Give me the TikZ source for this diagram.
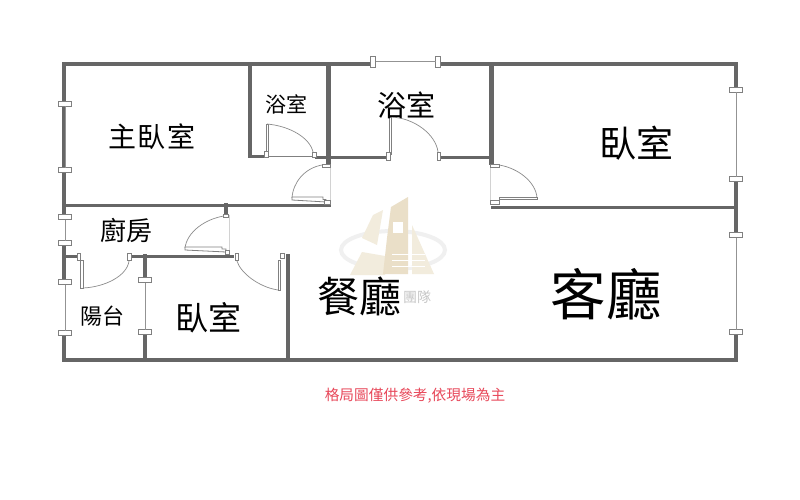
\documentclass[tikz,border=0pt]{standalone}
\usepackage{fontspec}
\newfontfamily\cjk{Noto Sans CJK TC}
\definecolor{wallc}{HTML}{666666}
\definecolor{tan1}{HTML}{EADFC8}
\definecolor{tan2}{HTML}{F2ECDD}
\definecolor{ringc}{HTML}{F0F0F0}
\definecolor{redt}{HTML}{E8485A}
\tikzset{
  wall/.style={draw=wallc,line width=4.5pt,line cap=rect},
  wallthin/.style={draw=wallc,line width=3pt,line cap=butt},
  glass/.style={draw=gray!85,line width=1pt},
  hcap/.style={draw=gray,fill=white,line width=1.3pt,minimum width=13pt,minimum height=5pt,inner sep=0pt,outer sep=0pt,rectangle},
  vcap/.style={draw=gray,fill=white,line width=1.3pt,minimum width=5pt,minimum height=11pt,inner sep=0pt,outer sep=0pt,rectangle},
  leaf/.style={draw=gray,fill=white,line width=.8pt},
  swing/.style={draw=gray!90,line width=.7pt},
  hair/.style={draw=gray!35,line width=.5pt},
  room/.style={font=\cjk,text=black,inner sep=0pt},
}
\begin{document}
\begin{tikzpicture}[x=1pt,y=-1pt]
\useasboundingbox (0,0) rectangle (800,500);
\fill[white] (0,0) rectangle (800,500);
% watermark
\draw[ringc,line width=4pt] (393,250) ellipse [x radius=52,y radius=19];
\fill[tan2] (362,238) -- (373,215) -- (383,210) -- (377,245) -- cycle;
\fill[tan2] (350,275) -- (362,252) -- (385,256) -- (385,275) -- cycle;
\fill[tan1] (387,238) -- (391,207) -- (408,197) -- (408,274) -- (383,274) -- cycle;
\fill[white] (393,222) rectangle (403,233);
\fill[tan2] (412,225) -- (434,274) -- (412,274) -- cycle;
\foreach \yy in {254,260,266}{\draw[white,line width=1pt] (392,\yy) -- (425,\yy);}
\node[room,font=\cjk\fontsize{14}{14}\selectfont,text=gray!45] (wmark) at (417,297) {團隊};
% outer and main walls
\draw[wall] (373,64) -| (64,170);
\draw[wall] (438,64) -| (736,90);
\draw[wall] (736,179) -- (736,235);
\draw[wall] (736,332) |- (64,360) -- (64,333);
\draw[wall] (64,170) -- (64,217);
\draw[wall] (64,243) -- (64,282);
\draw[wallthin] (64,205.5) -- (331,205.5);
\draw[wallthin] (491,207.5) -- (736,207.5);
\draw[wall] (250,64) -- (250,156);
\draw[wallthin] (250,156.5) -- (267,156.5);
\draw[gray,line width=1.2pt] (267,156.5) -- (315,156.5);
\draw[wall] (328.5,64) -- (328.5,163);
\draw[wallthin] (315,157) -- (386,157);
\draw[wallthin] (440,157) -- (491,157);
\draw[wall] (491.5,64) -- (491.5,163);
\draw[wallthin] (64,256) -- (78,256);
\draw[wallthin] (131,256) -- (234,256);
\draw[wall] (145,256) -- (145,280);
\draw[wall] (145,332) -- (145,360);
\draw[wall] (288,256) -- (288,360);
\draw[wall] (226,205) -- (226,215);
% windows
\node[hcap] (wa) at (65,104) {};
\node[hcap] (wb) at (65,170) {};
\draw[glass] (wa) -- (wb);
\node[vcap] (wc) at (373,62) {};
\node[vcap] (wd) at (438,62) {};
\draw[glass] (wc) -- (wd);
\node[hcap] (we) at (736,90) {};
\node[hcap] (wf) at (736,179) {};
\draw[glass] (we) -- (wf);
\node[hcap] (wg) at (736,235) {};
\node[hcap] (wh) at (736,332) {};
\draw[glass] (wg) -- (wh);
\node[hcap] (wi) at (65,217) {};
\node[hcap] (wj) at (65,243) {};
\draw[glass] (wi) -- (wj);
\node[hcap] (wk) at (65,282) {};
\node[hcap] (wl) at (65,333) {};
\draw[glass] (wk) -- (wl);
\node[hcap] (wm) at (145,280) {};
\node[hcap] (wn) at (145,332) {};
\draw[glass] (wm) -- (wn);
% door: small bath
\draw[leaf] (266,124) rectangle (268.5,155);
\draw[leaf] (264,151) rectangle (268,157);
\draw[swing] (267,124) .. controls (290,126) and (310,138) .. (313,152);
\draw[leaf] (312,152) rectangle (316,157.5);
% door: large bath
\draw[leaf] (389,117) rectangle (391.5,154);
\draw[leaf] (386,152) rectangle (390,160);
\draw[swing] (391,117) .. controls (415,118) and (436,135) .. (438,152);
\draw[leaf] (437,152) rectangle (440,160);
% door: master bedroom
\draw[hair] (330,165) -- (330,205);
\draw[leaf] (322,164) rectangle (330,167);
\draw[swing] (322,165) .. controls (305,168) and (293,182) .. (292,198);
\draw[leaf] (292,197) -- (323,197) -- (323,199.5) -- (326,199.5) -- (326,202) -- (292,200) -- cycle;
\draw[leaf] (324,200) rectangle (330,204);
% door: bedroom right
\draw[hair] (490,165) -- (490,205);
\draw[leaf] (490,164) rectangle (499,167);
\draw[swing] (499,165) .. controls (518,168) and (536,182) .. (537,198);
\draw[leaf] (499,197) rectangle (537,199.5);
\draw[leaf] (490,200) rectangle (499,204);
% door: kitchen
\draw[hair] (229,215) -- (229,252);
\draw[leaf] (223,214) rectangle (228,217);
\draw[swing] (224,216) .. controls (205,219) and (187,232) .. (185,248);
\draw[leaf] (185,247) -- (222,247) -- (222,249) -- (226,249) -- (226,252) -- (185,250) -- cycle;
\draw[leaf] (225,250) rectangle (229,254);
% door: balcony
\draw[leaf] (77,253) rectangle (80,260);
\draw[leaf] (80,260) rectangle (83,288);
\draw[swing] (83,288) .. controls (105,287) and (127,276) .. (129,261);
\draw[leaf] (127.5,253) rectangle (131,260);
% door: small bedroom
\draw[leaf] (235.5,253) rectangle (238,260);
\draw[swing] (237,261) .. controls (240,272) and (258,287) .. (278,290);
\draw[leaf] (278,260) rectangle (280.5,290);
\draw[leaf] (280,253) rectangle (284,258);
% labels
\node[room,font=\cjk\fontsize{28}{28}\selectfont] (mbed) at (152,137) {主\hspace{2pt}臥\hspace{2pt}室};
\node[room,font=\cjk\fontsize{21}{21}\selectfont] (bath1) at (286,104) {浴室};
\node[room,font=\cjk\fontsize{29}{29}\selectfont] (bath2) at (406,105) {浴室};
\node[room,font=\cjk\fontsize{37}{37}\selectfont] (bed1) at (636,143) {臥室};
\node[room,font=\cjk\fontsize{26}{26}\selectfont] (kit) at (126,230) {廚房};
\node[room,font=\cjk\fontsize{22}{22}\selectfont] (bal) at (102,316) {陽台};
\node[room,font=\cjk\fontsize{33}{33}\selectfont] (bed2) at (208,318) {臥室};
\node[room,font=\cjk\fontsize{42}{42}\selectfont] (din) at (359,296) {餐廳};
\node[room,font=\cjk\fontsize{55.5}{55.5}\selectfont] (liv) at (606,294) {客廳};
\node[room,font=\cjk\fontsize{14.7}{14.7}\selectfont,text=redt] (note) at (415,396) {格局圖僅供參考,依現場為主};
\end{tikzpicture}
\end{document}
